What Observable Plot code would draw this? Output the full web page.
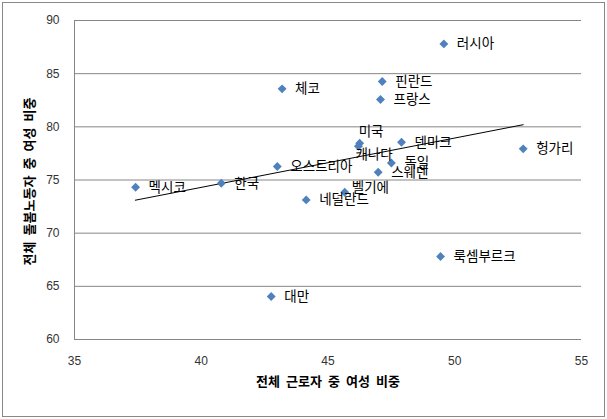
<!DOCTYPE html>
<html>
<head>
<meta charset="utf-8">
<script src="https://cdn.jsdelivr.net/npm/d3@7"></script>
<script src="https://cdn.jsdelivr.net/npm/@observablehq/plot@0.6"></script>
<style>
  html, body { margin: 0; padding: 0; background: #fff; }
</style>
</head>
<body>
<div id="chart"></div>
<script>
const countries = ["러시아", "핀란드", "프랑스", "체코", "미국", "캐나다", "덴마크", "헝가리", "독일", "스웨덴", "벨기에", "네덜란드", "오스트리아", "한국", "멕시코", "대만", "룩셈부르크"];
const womenShareAll = [49.57, 47.14, 47.07, 43.19, 46.25, 46.2, 47.9, 52.7, 47.5, 46.98, 45.66, 44.14, 43.0, 40.79, 37.41, 42.76, 49.44];
const womenShareCare = [87.8, 84.26, 82.57, 83.57, 78.46, 78.17, 78.55, 77.93, 76.6, 75.73, 73.85, 73.13, 76.27, 74.69, 74.32, 64.04, 67.8];
const trendX = [37.4, 52.7];
const trendY = [73.1, 80.2];
const xTicks = [35, 40, 45, 50, 55];
const yTicks = [60, 65, 70, 75, 80, 85, 90];
const xTitle = "전체 근로자 중 여성 비중";
const yTitle = "전체 돌봄노동자 중 여성 비중";

const points = countries.map((c, i) => ({country: c, x: womenShareAll[i], y: womenShareCare[i]}));
const trend = trendX.map((x, i) => ({x, y: trendY[i]}));

// manual label nudges (as in the reference)
const special = {"미국": [-1, -12], "캐나다": [-3, 8], "벨기에": [7, -5]};
const normal = points.filter(d => !(d.country in special));

const font = "'Liberation Sans', 'Noto Sans CJK KR', sans-serif";
const labelSize = 13.5;

const specialMarks = Object.entries(special).map(([name, [dx, dy]]) =>
  Plot.text(points.filter(d => d.country === name), {x: "x", y: "y", text: "country", dx, dy, textAnchor: "start", fontSize: labelSize, fill: "#000"})
);

const svg = Plot.plot({
  width: 607,
  height: 419,
  marginLeft: 74,
  marginRight: 26,
  marginTop: 20,
  marginBottom: 80,
  style: {fontFamily: font, background: "#fff", overflow: "visible"},
  x: {domain: [35, 55]},
  y: {domain: [60, 90]},
  marks: [
    Plot.ruleY(yTicks, {stroke: "#868686", strokeWidth: 1}),
    Plot.ruleX([35], {stroke: "#868686", strokeWidth: 1}),
    Plot.axisX({ticks: xTicks, tickSize: 0, tickPadding: 17, label: null, fontSize: 12, color: "#333"}),
    Plot.axisY({ticks: yTicks, tickSize: 0, tickPadding: 15, label: null, fontSize: 12, color: "#333"}),
    Plot.line(trend, {x: "x", y: "y", stroke: "#000", strokeWidth: 1}),
    Plot.dot(points, {x: "x", y: "y", symbol: "diamond2", r: 4, fill: "#4F81BD", stroke: "none"}),
    Plot.text(normal, {x: "x", y: "y", text: "country", dx: 13, textAnchor: "start", fontSize: labelSize, fill: "#000"}),
    ...specialMarks,
    Plot.text([xTitle], {frameAnchor: "bottom", dy: 46, textAnchor: "middle", fontSize: 13, fontWeight: "bold", fill: "#000"}),
    Plot.text([yTitle], {frameAnchor: "left", dx: -45, dy: 1.5, textAnchor: "middle", rotate: -90, fontSize: 13, fontWeight: "bold", fill: "#000"})
  ]
});

d3.select(svg).selectAll("text")
  .filter(function() { return this.textContent === xTitle || this.textContent === yTitle; })
  .style("word-spacing", "2.5px");

d3.select(svg).append("rect")
  .attr("x", 2.5).attr("y", 2.5).attr("width", 602).attr("height", 414)
  .attr("fill", "none").attr("stroke", "#888").attr("stroke-width", 1);

document.getElementById("chart").appendChild(svg);
</script>
</body>
</html>
